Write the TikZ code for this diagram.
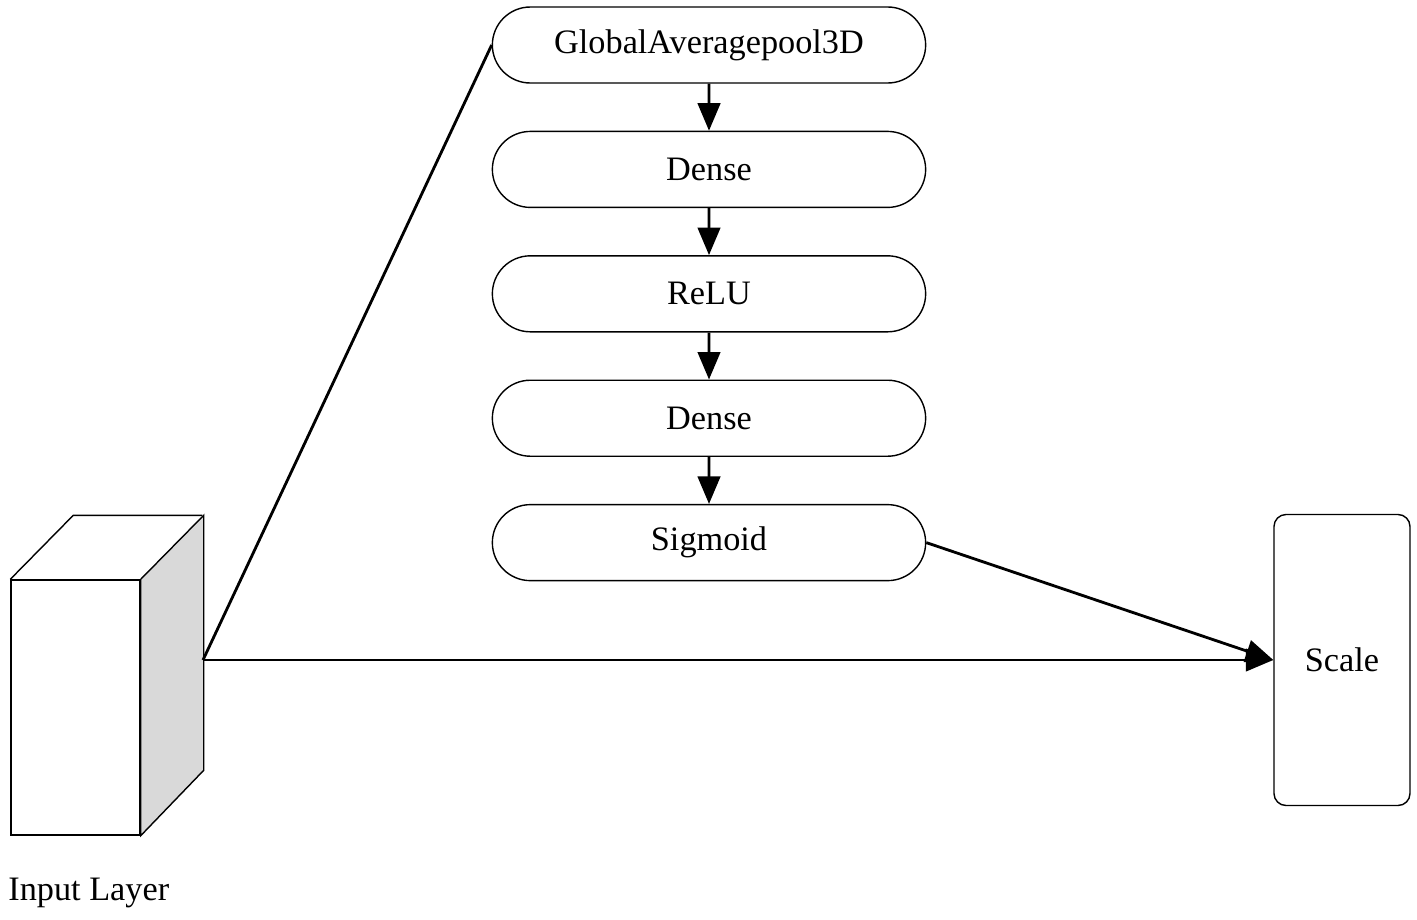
\documentclass[tikz,border=0pt]{standalone}
\usepackage{fontspec}
\setmainfont{Liberation Serif}
\usepackage{tikz}
\usetikzlibrary{shapes.misc, arrows.meta, positioning}
\tikzstyle{layer} = [rounded rectangle, draw, line width=0.8pt, minimum width=8.9cm, minimum height=1.52cm, align=center]
\tikzstyle{scalebox} = [rectangle, draw, line width=0.8pt, rounded corners=0.24cm, minimum width=2.72cm, minimum height=5.82cm, align=center]
\tikzstyle{face} = [rectangle, draw, line width=0.8pt, minimum width=2.58cm, minimum height=5.1cm, inner sep=0pt]
\tikzstyle{arrow} = [line width=1.6pt, -{Triangle[length=0.55cm, width=0.45cm]}]
\tikzstyle{link} = [line width=1.6pt]

\begin{document}
\begin{tikzpicture}[node distance=0.94cm, font=\fontsize{19.5}{23}\selectfont]
    \useasboundingbox (0,0) rectangle (28.34,-18.38);

            % Nodes
            \node (gap) [layer] at (14.18,-0.9) {GlobalAveragepool3D};
            \node (dense1) [layer, below=of gap] {Dense};
            \node (relu) [layer, below=of dense1] {ReLU};
            \node (dense2) [layer, below=of relu] {Dense};
            \node (sigmoid) [layer, below=of dense2] {Sigmoid};

            \node (scale) [scalebox] at (26.84,-13.2) {Scale};

            % input cube
            \node (front) [face] at (1.51,-14.15) {};
            \draw [line width=0.8pt, fill=black!15] (front.north east) -- ++(1.26,1.28) -- ++(0,-5.1) -- (front.south east) -- cycle;
            \draw [line width=0.8pt] (front.north west) -- ++(1.26,1.28) -- ++(2.58,0);
            \coordinate (port) at (4.06,-13.2);
            \node (input) [anchor=base west, inner sep=0pt] at (0.16,-18.0) {Input Layer};

            % Arrows
            \draw [arrow] (gap) -- (dense1);
            \draw [arrow] (dense1) -- (relu);
            \draw [arrow] (relu) -- (dense2);
            \draw [arrow] (dense2) -- (sigmoid);
            \draw [link] (port) -- (gap.west);
            \draw [arrow] (port) -- (scale.west);
            \draw [arrow] (sigmoid.east) -- (scale.west);

        \end{tikzpicture}
\end{document}
